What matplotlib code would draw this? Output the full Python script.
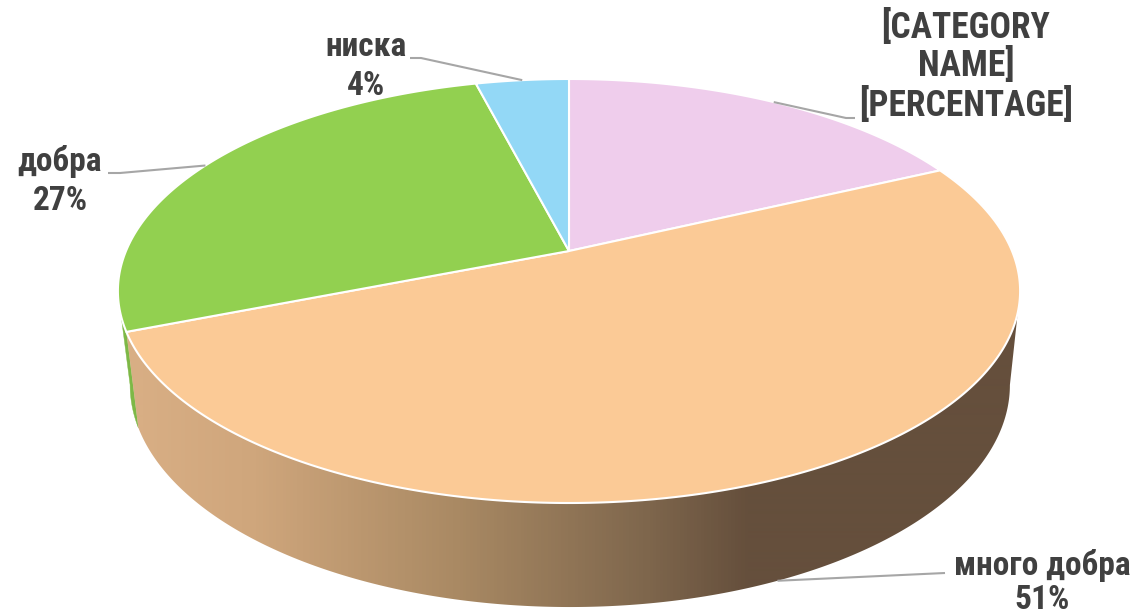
import numpy as np
import matplotlib
matplotlib.use("Agg")
import matplotlib.pyplot as plt
from matplotlib.colors import LinearSegmentedColormap
from matplotlib.patches import Polygon

categories = ["[CATEGORY\nNAME]", "много добра", "добра", "ниска"]
percent_labels = ["[PERCENTAGE]", "51%", "27%", "4%"]
values = [18, 51, 27, 4]
top_colors = ["#EFCDEC", "#FBCA96", "#92D050", "#93D8F6"]
side_green = "#7DB846"

plt.rcParams['font.family'] = ['Roboto Condensed', 'Liberation Sans', 'DejaVu Sans']

fig = plt.figure(figsize=(11.38, 6.16), dpi=100)
ax = fig.add_axes([0, 0, 1, 1])
ax.set_xlim(0, 1138)
ax.set_ylim(616, 0)
ax.axis("off")

PERSP = 80 / 424


def rim(theta, x0, radius, a, b):
    """Perspective projection of a circle; theta is clockwise from the top."""
    u, v = np.sin(theta), np.cos(theta)
    d = 1 + PERSP * v
    return x0 + radius * u / d, (a * v + b) / d


def top_rim(theta):
    return rim(theta, 569, 443, -157.1, 251)


def low_rim(theta):
    return rim(theta, 570, 432, -149.5, 343)


def wall(start, stop, n=400):
    th = np.linspace(start, stop, n)
    tx, ty = top_rim(th)
    lx, ly = low_rim(th)
    return np.column_stack([np.r_[tx, lx[::-1]], np.r_[ty, ly[::-1]]])


fractions = np.array(values, dtype=float) / sum(values)
edges = np.concatenate([[0], np.cumsum(fractions)]) * 2 * np.pi
mids = (edges[:-1] + edges[1:]) / 2
# angles at which the wall turns away from the viewer
right_turn = np.arccos(-PERSP)
left_turn = 2 * np.pi - right_turn

# green wall, seen only as a sliver on the left
ax.add_patch(Polygon(wall(edges[2], left_turn), closed=True, facecolor=side_green,
                     edgecolor=side_green, linewidth=0.3, zorder=1))

# orange wall with its horizontal shading
cmap = LinearSegmentedColormap.from_list(
    "side", [(0, "#D8AE84"), (0.13, "#CFA67C"), (0.36, "#AA8A64"),
             (0.58, "#7F674D"), (0.70, "#654F3C"), (1, "#654F3C")])
clip = Polygon(wall(max(edges[1], right_turn), edges[2]), closed=True, transform=ax.transData,
               facecolor="none", edgecolor="none")
ax.add_patch(clip)
im = ax.imshow(np.linspace(0, 1, 870)[None, :], cmap=cmap, extent=(140, 1010, 616, 0), aspect="auto",
               interpolation="bilinear", zorder=2)
# extend shading past the right and left ends of the gradient box
im2 = ax.imshow(np.array([[1.0, 1.0]]), cmap=cmap, vmin=0, vmax=1, extent=(1010, 1030, 616, 0), aspect="auto", zorder=2)
im3 = ax.imshow(np.array([[0.0, 0.0]]), cmap=cmap, vmin=0, vmax=1, extent=(120, 140, 616, 0), aspect="auto", zorder=2)
for m in (im, im2, im3):
    m.set_clip_path(clip)
ax.set_xlim(0, 1138)
ax.set_ylim(616, 0)

# top faces
for i, col in enumerate(top_colors):
    th = np.linspace(edges[i], edges[i + 1], 300)
    x, y = top_rim(th)
    ax.fill(np.r_[569, x], np.r_[251, y], facecolor=col, edgecolor="white", linewidth=1.5,
            joinstyle="round", zorder=3)

# leader lines, anchored at the middle of each slice
line_kw = dict(color="#A6A6A6", lw=1.5, zorder=4, solid_capstyle="butt")
a = top_rim(mids[0])
ax.plot([a[0], 846, 855], [a[1], 118, 118], **line_kw)
a = low_rim(mids[1])
ax.plot([a[0], 945], [a[1], 573], **line_kw)
a = top_rim(mids[2])
ax.plot([a[0], 120, 108], [a[1], 173, 173], **line_kw)
a = top_rim(mids[3])
ax.plot([a[0], 421, 410], [a[1], 58, 58], **line_kw)

# labels
txt = dict(color="#404040", fontweight="bold", fontsize=24, ha="center", va="center", zorder=5)
big = dict(txt, fontsize=25.6)
ax.text(966, 27, categories[0].split("\n")[0], **big)
ax.text(966, 66, categories[0].split("\n")[1], **big)
ax.text(966, 105, percent_labels[0], **big)
ax.text(1042, 565, categories[1], **txt)
ax.text(1042, 600, percent_labels[1], **txt)
ax.text(60, 162, categories[2], **txt)
ax.text(60, 201, percent_labels[2], **txt)
ax.text(366, 47, categories[3], **txt)
ax.text(366, 86, percent_labels[3], **txt)

fig.savefig("out.png", dpi=100, facecolor="white")
